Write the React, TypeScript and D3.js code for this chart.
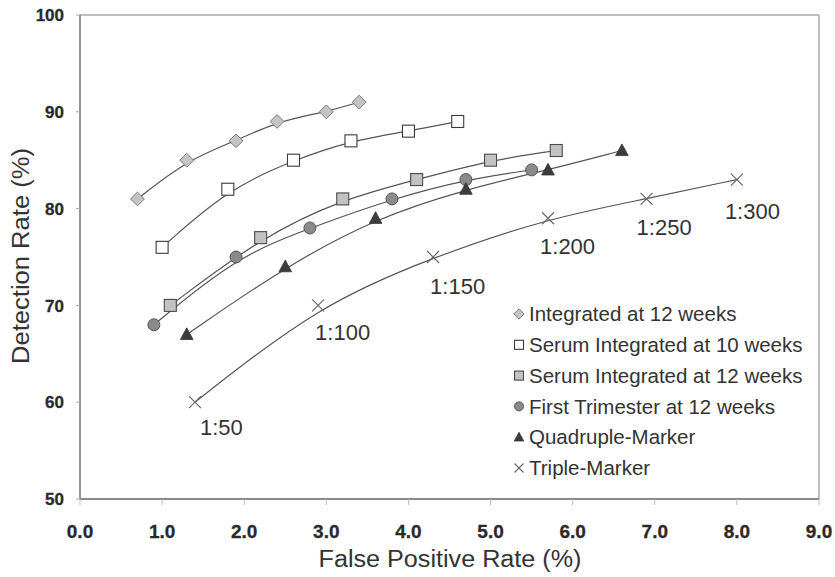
import React from "react";
import * as d3 from "d3";

type Pt = [number, number];

const integrated12: Pt[] = [[0.7, 81], [1.3, 85], [1.9, 87], [2.4, 89], [3.0, 90], [3.4, 91]];
const serumIntegrated10: Pt[] = [[1.0, 76], [1.8, 82], [2.6, 85], [3.3, 87], [4.0, 88], [4.6, 89]];
const serumIntegrated12: Pt[] = [[1.1, 70], [2.2, 77], [3.2, 81], [4.1, 83], [5.0, 85], [5.8, 86]];
const firstTrimester12: Pt[] = [[0.9, 68], [1.9, 75], [2.8, 78], [3.8, 81], [4.7, 83], [5.5, 84]];
const quadrupleMarker: Pt[] = [[1.3, 67], [2.5, 74], [3.6, 79], [4.7, 82], [5.7, 84], [6.6, 86]];
const tripleMarker: Pt[] = [[1.4, 60], [2.9, 70], [4.3, 75], [5.7, 79], [6.9, 81], [8.0, 83]];

const riskLabels = ["1:50", "1:100", "1:150", "1:200", "1:250", "1:300"];
const labelOffsets: Pt[] = [[5, 33], [-3, 35], [-3, 37], [-8, 36], [-10, 36], [-12, 39]];

const xTicks = [0, 1, 2, 3, 4, 5, 6, 7, 8, 9];
const yTicks = [50, 60, 70, 80, 90, 100];

const seriesNames = [
  "Integrated at 12 weeks",
  "Serum Integrated at 10 weeks",
  "Serum Integrated at 12 weeks",
  "First Trimester at 12 weeks",
  "Quadruple-Marker",
  "Triple-Marker",
];
const seriesData = [integrated12, serumIntegrated10, serumIntegrated12, firstTrimester12, quadrupleMarker, tripleMarker];
const markerTypes = ["diamond", "openSquare", "graySquare", "circle", "triangle", "cross"];

const W = 835, H = 577;
const L = 80, T = 15, R = 819, B = 499;
const FONT = "'Liberation Sans', Arial, Helvetica, sans-serif";
const TEXT = "#333";

function Marker({ type, x, y, s }: { type: string; x: number; y: number; s: number }) {
  const h = s / 2;
  switch (type) {
    case "diamond":
      return <path d={`M${x},${y - h * 1.15}L${x + h * 1.15},${y}L${x},${y + h * 1.15}L${x - h * 1.15},${y}Z`} fill="#c4c4c4" stroke="#7a7a7a" strokeWidth={1} />;
    case "openSquare":
      return <rect x={x - h} y={y - h} width={s} height={s} fill="#fff" stroke="#3a3a3a" strokeWidth={1.1} />;
    case "graySquare":
      return <rect x={x - h} y={y - h} width={s} height={s} fill="#c2c2c2" stroke="#4a4a4a" strokeWidth={1.1} />;
    case "circle":
      return <circle cx={x} cy={y} r={h} fill="#8a8a8a" stroke="#555" strokeWidth={1} />;
    case "triangle":
      return <path d={`M${x},${y - h * 1.1}L${x + h * 1.05},${y + h * 0.85}L${x - h * 1.05},${y + h * 0.85}Z`} fill="#3c3c3c" stroke="#333" strokeWidth={0.8} />;
    case "cross":
      return <path d={`M${x - h},${y - h}L${x + h},${y + h}M${x - h},${y + h}L${x + h},${y - h}`} stroke="#6a6a6a" strokeWidth={1.2} fill="none" />;
  }
  return null;
}

export default function App() {
  const x = d3.scaleLinear().domain([0, 9]).range([L, R]);
  const y = d3.scaleLinear().domain([50, 100]).range([B, T]);
  const line = d3.line<Pt>().x(d => x(d[0])).y(d => y(d[1])).curve(d3.curveBasis);

  return (
    <svg width={W} height={H} style={{ position: "absolute", left: 0, top: 0, background: "#fff" }} fontFamily={FONT}>
      <rect x={0} y={0} width={W} height={H} fill="#fff" />
      {/* frame */}
      <line x1={L} x2={R} y1={T} y2={T} stroke="#a8a8a8" strokeWidth={1.5} />
      <line x1={R} x2={R} y1={T} y2={B} stroke="#a8a8a8" strokeWidth={1.5} />
      <line x1={L} x2={L} y1={T} y2={B} stroke="#8a8a8a" strokeWidth={1.8} />
      <line x1={L} x2={R} y1={B} y2={B} stroke="#8a8a8a" strokeWidth={1.8} />
      {/* y ticks */}
      {yTicks.map(t => (
        <g key={"y" + t}>
          <line x1={L - 4} x2={L} y1={y(t)} y2={y(t)} stroke="#aaa" strokeWidth={1} />
          <text x={64} y={y(t)} dy="0.36em" textAnchor="end" fontSize={17} fontWeight="bold" fill="#2a2a2a" stroke="#2a2a2a" strokeWidth={0.3}>{t}</text>
        </g>
      ))}
      {/* x ticks */}
      {xTicks.map(t => (
        <g key={"x" + t}>
          <line x1={x(t)} x2={x(t)} y1={B} y2={B + 6} stroke="#bbb" strokeWidth={1} />
          <text x={x(t)} y={538} textAnchor="middle" fontSize={19} fontWeight="bold" fill="#2a2a2a" stroke="#2a2a2a" strokeWidth={0.3}>{t.toFixed(1)}</text>
        </g>
      ))}
      {/* axis titles */}
      <text x={450} y={567} textAnchor="middle" fontSize={23.5} fill={TEXT} textLength={263} lengthAdjust="spacingAndGlyphs">False Positive Rate (%)</text>
      <text transform={`translate(29,256) rotate(-90)`} textAnchor="middle" fontSize={23.5} fill={TEXT} textLength={216} lengthAdjust="spacingAndGlyphs">Detection Rate (%)</text>
      {/* series lines */}
      {seriesData.map((d, i) => (
        <path key={"l" + i} d={line(d) || ""} fill="none" stroke="#555" strokeWidth={1.2} />
      ))}
      {/* markers */}
      {seriesData.map((d, i) => d.map((p, j) => (
        <Marker key={`m${i}-${j}`} type={markerTypes[i]} x={x(p[0])} y={y(p[1])} s={12} />
      )))}
      {/* risk labels */}
      {tripleMarker.map((p, j) => (
        <text key={"r" + j} x={x(p[0]) + labelOffsets[j][0]} y={y(p[1]) + labelOffsets[j][1]} fontSize={22} fill={TEXT}>{riskLabels[j]}</text>
      ))}
      {/* legend */}
      {seriesNames.map((n, i) => {
        const ly = 314 + i * 30.8;
        return (
          <g key={"lg" + i}>
            <Marker type={markerTypes[i]} x={519} y={ly} s={9} />
            <text x={529} y={ly} dy="0.35em" fontSize={20.5} fill={TEXT}>{n}</text>
          </g>
        );
      })}
    </svg>
  );
}
